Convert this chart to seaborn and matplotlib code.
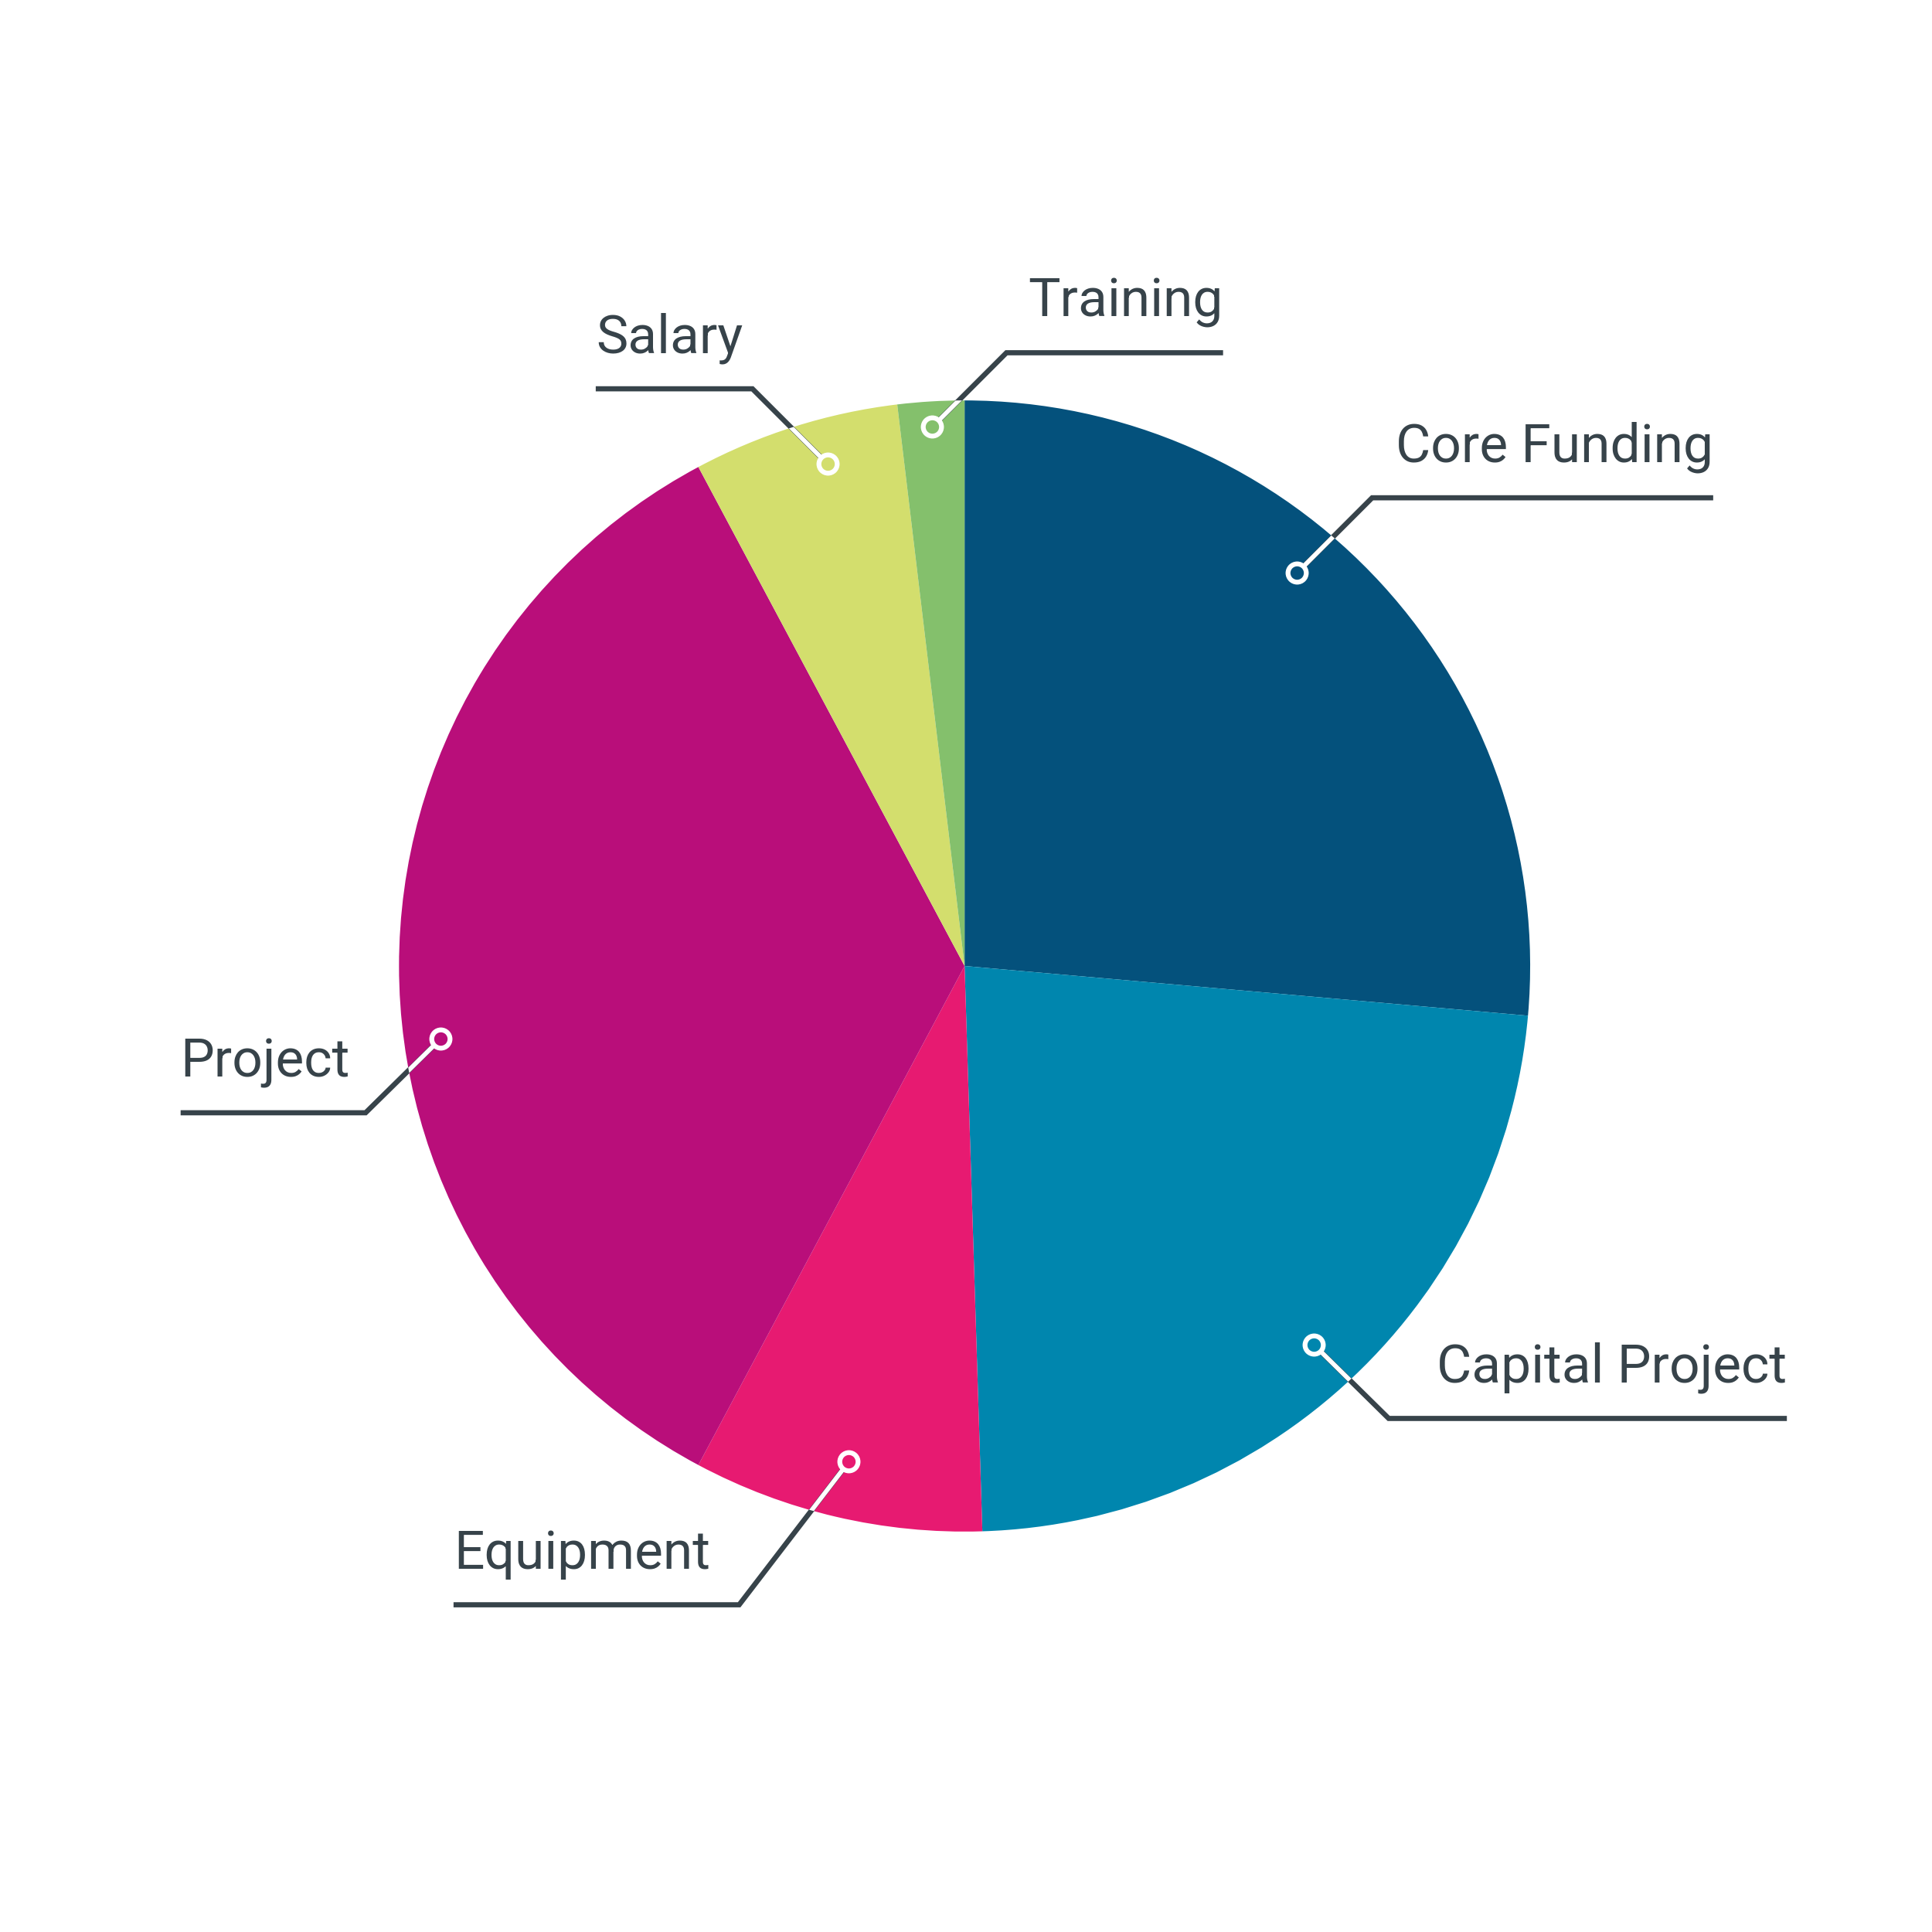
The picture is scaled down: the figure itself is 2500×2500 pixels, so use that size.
import numpy as np
import matplotlib
matplotlib.use("Agg")
import matplotlib.pyplot as plt
import seaborn as sns
from matplotlib.patches import Circle

# budget split, clockwise from 12 o'clock
categories = ["Core Funding", "Capital Project", "Equipment", "Project", "Salary", "Training"]
shares = [26.4, 23.1, 8.3, 34.4, 5.9, 1.9]
slice_colors = ["#04517C", "#0086AE", "#E71A71", "#B90E7A", "#D3DE6D", "#84C06C"]

INK = "#37434A"

# leader layout per slice: angle nudge (deg), anchor radius, elbow run (dx, dy),
# shelf length, and which way the leader goes (x side, y side)
angle_nudge = [7.3, -0.7, 0.0, 7.9, -2.2, 0.0]
anchor_r = [0.91, 0.91, 0.90, 0.935, 0.92, 0.955]
elbow = [(0.133, 0.133), (0.133, 0.131), (0.194, 0.253),
         (0.133, 0.131), (0.133, 0.133), (0.131, 0.131)]
shelf = [0.603, 0.704, 0.505, 0.327, 0.277, 0.383]
side_x = [1, 1, -1, -1, -1, 1]
side_y = [1, -1, -1, -1, 1, 1]

sns.set_theme(style="white")
plt.rcParams["font.family"] = ["Roboto", "DejaVu Sans"]
palette = sns.color_palette(slice_colors)

fig = plt.figure(figsize=(25, 25), dpi=100)
ax = fig.add_axes([0, 0, 1, 1])
wedges, _ = ax.pie(shares, colors=palette, startangle=90, counterclock=False,
                   radius=1, wedgeprops=dict(linewidth=0))
ax.set_xlim(-1.705, 1.710)
ax.set_ylim(-1.708, 1.708)
ax.set_aspect("equal")
ax.axis("off")

# the part of each leader that lies on the pie is drawn white
rim = Circle((0, 0), 1, transform=ax.transData)

for i, w in enumerate(wedges):
    mid = np.deg2rad((w.theta1 + w.theta2) / 2 + angle_nudge[i])
    x0, y0 = anchor_r[i] * np.cos(mid), anchor_r[i] * np.sin(mid)
    sx, sy = side_x[i], side_y[i]
    ex, ey = elbow[i]
    x1, y1 = x0 + sx * ex, y0 + sy * ey
    x2 = x1 + sx * shelf[i]

    ax.plot([x0, x1, x2], [y0, y1, y1], color=INK, lw=4.8,
            solid_capstyle="butt", solid_joinstyle="miter", zorder=3)
    white, = ax.plot([x0, x1], [y0, y1], color="white", lw=4.2,
                     solid_capstyle="butt", zorder=4)
    white.set_clip_path(rim)
    ax.plot(x0, y0, marker="o", ms=17, mfc=palette[i], mec="white", mew=4.5,
            zorder=5)

    ax.text(x2, y1 + 0.064, categories[i], ha="left" if sx < 0 else "right",
            va="baseline", fontsize=50, color=INK)

fig.savefig("out.png", dpi=100, facecolor="white")
plt.close(fig)
